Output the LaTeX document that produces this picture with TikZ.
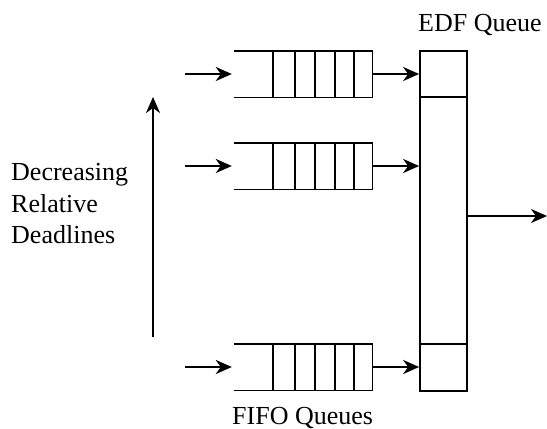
\documentclass[tikz,border=0pt]{standalone}
\usepackage{fontspec}
\setmainfont{Liberation Serif}
\usetikzlibrary{arrows.meta}
\begin{document}
\begin{tikzpicture}[x=1pt,y=-1pt,
  arr/.style={line width=2.4pt,-{Stealth[length=16pt,width=14pt,inset=5pt]}},
  qline/.style={line width=1.4pt},
  boxline/.style={line width=1.7pt},
  qnode/.style={minimum width=138pt,minimum height=46pt,inner sep=0pt,draw=none},
  lbl/.style={font=\fontsize{26}{31.7}\selectfont,inner sep=0pt,anchor=base west}]
\useasboundingbox (0,0) rectangle (547,429);
% EDF queue
\node[draw,boxline,minimum width=47pt,minimum height=340pt,inner sep=0pt] (edf) at (443.5,221) {};
% FIFO queues
\foreach \n/\y in {1/74,2/166,3/367}{
  \node[qnode] (q\n) at (303,\y) {};
  \draw[qline] (q\n.north west) -- (q\n.north east) -- (q\n.south east) -- (q\n.south west);
  \foreach \x in {273,295,315,335,354}{
    \draw[qline] (\x,{\y-23}) -- (\x,{\y+23});
  }
  \coordinate (in\n) at (185,\y);
  \draw[arr,shorten >=2pt] (in\n) -- (q\n.west);
  \draw[arr] (q\n.east) -- (q\n.east -| edf.west);
}
\draw[boxline] (edf.west |- q1.south) -- (edf.east |- q1.south);
\draw[boxline] (edf.west |- q3.north) -- (edf.east |- q3.north);
% output
\coordinate (out) at (547,216);
\draw[arr] (edf.east |- out) -- (out);
% priority arrow
\coordinate (vb) at (153,337);
\coordinate (vt) at (153,97);
\draw[arr] (vb) -- (vt);
% labels
\node[lbl] (l1) at (11,180) {Decreasing};
\node[lbl] (l2) at (11,212) {Relative};
\node[lbl] (l3) at (11,243) {Deadlines};
\node[lbl] (edfl) at (418,31) {EDF Queue};
\node[lbl] (fifol) at (232,424) {FIFO Queues};
\end{tikzpicture}
\end{document}
